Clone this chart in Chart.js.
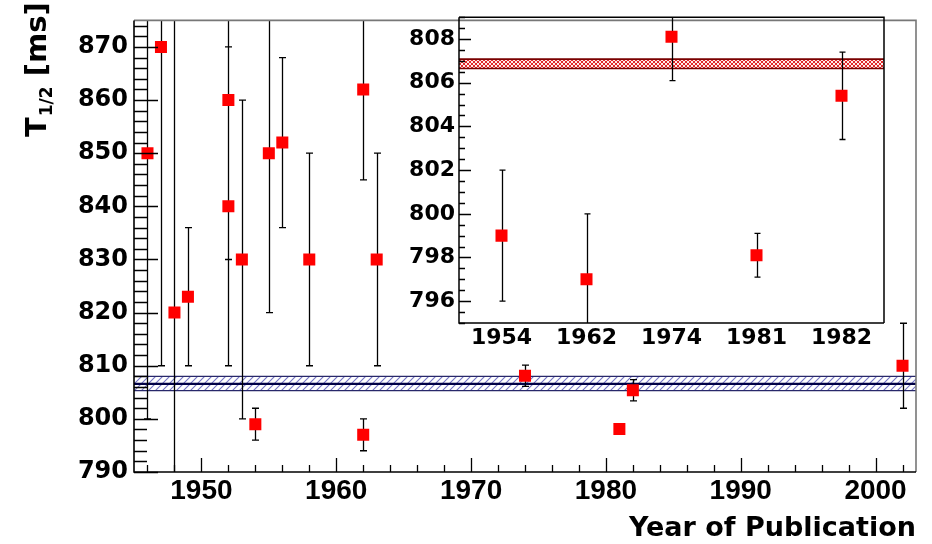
<!DOCTYPE html>
<html>
<head>
<meta charset="utf-8">
<script src="https://cdn.jsdelivr.net/npm/chart.js@4.4.1/dist/chart.umd.min.js"></script>
<style>
  html, body { margin: 0; padding: 0; background: #fff; }
  #wrap { position: relative; width: 932px; height: 544px; }
  #main { position: absolute; left: 0; top: 0; }
  #inset { position: absolute; left: 400px; top: 0; }
</style>
</head>
<body>
<div id="wrap">
  <canvas id="main" width="932" height="544"></canvas>
  <canvas id="inset" width="500" height="370"></canvas>
</div>
<script>
// main plot: publication year, half-life [ms] and its error
const pubYears   = [1946, 1947, 1948, 1949, 1952, 1952, 1953, 1954, 1955, 1956, 1958, 1962, 1962, 1963, 1974, 1981, 1982, 2002];
const halfLives  = [850, 870, 820, 823, 860, 840, 830, 799, 850, 852, 830, 862, 797, 830, 808.1, 798.1, 805.4, 810];
const halfErrors = [50, 60, 70, 13, 30, 30, 30, 3, 30, 16, 20, 17, 3, 20, 2, 1, 2, 8];
const mainBand   = [805.3, 806.6, 808.0];      // low, mean, high

// inset: the precise measurements only
const insetYears  = ['1954', '1962', '1974', '1981', '1982'];
const insetValues = [799, 797, 808.1, 798.1, 805.4];
const insetErrors = [3, 3, 2, 1, 2];
const insetBand   = [806.65, 806.88, 807.08];

// axis ranges and tick labels
const mainX = [1945, 2003, 10, 2];   // min, max, major, minor
const mainY = [790, 875, 10, 2];
const insetY = [795, 809, 2, 0.5];
const mainXTicks  = [1950, 1960, 1970, 1980, 1990, 2000];
const mainYTicks  = [790, 800, 810, 820, 830, 840, 850, 860, 870];
const insetYTicks = [796, 798, 800, 802, 804, 806, 808];

function hatch(color, bg, size, both, lw) {
  const c = document.createElement('canvas');
  c.width = c.height = size;
  const g = c.getContext('2d');
  if (bg) { g.fillStyle = bg; g.fillRect(0, 0, size, size); }
  g.strokeStyle = color;
  g.lineWidth = lw;
  g.beginPath();
  g.moveTo(-1, size + 1); g.lineTo(size + 1, -1);
  g.moveTo(-1, 1); g.lineTo(1, -1);
  g.moveTo(size - 1, size + 1); g.lineTo(size + 1, size - 1);
  if (both) {
    g.moveTo(-1, -1); g.lineTo(size + 1, size + 1);
  }
  g.stroke();
  return c;
}

const bandPlugin = {
  id: 'band',
  beforeDatasetsDraw(chart, args, o) {
    const { ctx, chartArea: a, scales: { y } } = chart;
    const [lo, mid, hi] = o.values;
    const yl = y.getPixelForValue(lo), yh = y.getPixelForValue(hi), ym = y.getPixelForValue(mid);
    ctx.save();
    ctx.beginPath();
    ctx.rect(a.left, a.top, a.width, a.height);
    ctx.clip();
    ctx.fillStyle = ctx.createPattern(o.pattern, 'repeat');
    ctx.fillRect(a.left, yh, a.width, yl - yh);
    ctx.strokeStyle = o.edge;
    ctx.lineWidth = o.edgeWidth;
    ctx.beginPath();
    ctx.moveTo(a.left, yl); ctx.lineTo(a.right, yl);
    ctx.moveTo(a.left, yh); ctx.lineTo(a.right, yh);
    ctx.stroke();
    if (o.centerWidth) {
      ctx.strokeStyle = o.center;
      ctx.lineWidth = o.centerWidth;
      ctx.beginPath();
      ctx.moveTo(a.left, ym); ctx.lineTo(a.right, ym);
      ctx.stroke();
    }
    ctx.restore();
  }
};

const errPlugin = {
  id: 'errbars',
  beforeDatasetsDraw(chart, args, o) {
    const { ctx, chartArea: a, scales: { y } } = chart;
    const meta = chart.getDatasetMeta(0);
    const vals = chart.data.datasets[0].data;
    ctx.save();
    ctx.beginPath();
    ctx.rect(a.left, a.top, a.width, a.height);
    ctx.clip();
    ctx.strokeStyle = '#000';
    ctx.lineWidth = 1.3;
    ctx.beginPath();
    meta.data.forEach((pt, i) => {
      const v = typeof vals[i] === 'object' ? vals[i].y : vals[i];
      const e = o.errors[i];
      const x = Math.round(pt.x) + 0.5;
      const y1 = y.getPixelForValue(v + e), y2 = y.getPixelForValue(v - e);
      ctx.moveTo(x, y1); ctx.lineTo(x, y2);
      ctx.moveTo(x - o.cap, y1); ctx.lineTo(x + o.cap, y1);
      ctx.moveTo(x - o.cap, y2); ctx.lineTo(x + o.cap, y2);
    });
    ctx.stroke();
    ctx.restore();
  }
};

function isMajor(v, step) {
  return Math.abs(v / step - Math.round(v / step)) < 1e-6;
}

const frameTicks = {
  id: 'frameTicks',
  afterDraw(chart, args, o) {
    const { ctx, chartArea: a, scales: { x, y } } = chart;
    ctx.save();
    ctx.strokeStyle = '#000';
    ctx.lineWidth = 1.3;
    ctx.beginPath();
    if (o.y) {
      const [min, max, major, minor, lmaj, lmin] = o.y;
      for (let v = Math.ceil(min / minor) * minor; v <= max + 1e-9; v += minor) {
        const py = Math.round(y.getPixelForValue(v)) + 0.5;
        ctx.moveTo(a.left, py);
        ctx.lineTo(a.left + (isMajor(v, major) ? lmaj : lmin), py);
      }
    }
    if (o.x) {
      const [min, max, major, minor, lmaj, lmin] = o.x;
      for (let v = Math.ceil(min / minor) * minor; v <= max + 1e-9; v += minor) {
        const px = Math.round(x.getPixelForValue(v)) + 0.5;
        ctx.moveTo(px, a.bottom);
        ctx.lineTo(px, a.bottom - (isMajor(v, major) ? lmaj : lmin));
      }
    }
    ctx.stroke();
    // frame
    ctx.lineWidth = o.width;
    ctx.strokeStyle = o.far;
    ctx.beginPath();
    ctx.moveTo(a.left, a.top); ctx.lineTo(a.right, a.top); ctx.lineTo(a.right, a.bottom);
    ctx.stroke();
    ctx.strokeStyle = o.near;
    ctx.beginPath();
    ctx.moveTo(a.left, a.top); ctx.lineTo(a.left, a.bottom); ctx.lineTo(a.right, a.bottom);
    ctx.stroke();
    ctx.restore();
  }
};

const titles = {
  id: 'titles',
  afterDraw(chart) {
    const { ctx } = chart;
    ctx.save();
    ctx.fillStyle = '#000';
    ctx.textBaseline = 'alphabetic';
    // x title, right aligned to the frame
    ctx.font = 'bold 27px "DejaVu Sans"';
    ctx.textAlign = 'right';
    ctx.fillText('Year of Publication', chart.chartArea.right, 536);
    // y title, rotated, with subscript
    ctx.translate(46, 137);
    ctx.rotate(-Math.PI / 2);
    ctx.textAlign = 'left';
    let cx = 0;
    ctx.font = 'bold 29px "DejaVu Sans"';
    ctx.fillText('T', cx, 0);
    cx += ctx.measureText('T').width + 1;
    ctx.font = 'bold 17px "DejaVu Sans"';
    ctx.fillText('1/2', cx, 6);
    cx += ctx.measureText('1/2').width;
    ctx.font = 'bold 29px "DejaVu Sans"';
    ctx.fillText(' [ms]', cx, 0);
    ctx.restore();
  }
};

const pointStyle = {
  pointStyle: 'rect',
  pointRadius: 8.5,
  pointHoverRadius: 8.5,
  backgroundColor: '#ff0000',
  borderColor: '#ff0000',
  borderWidth: 0
};

const fixTicks = list => s => { s.ticks = list.map(v => ({ value: v })); };

new Chart(document.getElementById('main'), {
  type: 'scatter',
  data: {
    datasets: [{ data: pubYears.map((yr, i) => ({ x: yr, y: halfLives[i] })), ...pointStyle }]
  },
  options: {
    responsive: false,
    animation: false,
    events: [],
    layout: { padding: { left: 0, right: 16, top: 9, bottom: 0 } },
    plugins: {
      legend: { display: false },
      tooltip: { enabled: false },
      band: {
        values: mainBand, pattern: hatch('#7474c4', '#ffffff', 7, false, 1.1),
        edge: '#28286a', edgeWidth: 1.2, center: '#000046', centerWidth: 2.2
      },
      errbars: { errors: halfErrors, cap: 3.5 },
      frameTicks: {
        x: [...mainX, 14, 7], y: [...mainY, 24, 13],
        width: 1.6, near: '#000', far: '#777'
      }
    },
    scales: {
      x: {
        type: 'linear', min: mainX[0], max: mainX[1],
        afterBuildTicks: fixTicks(mainXTicks),
        afterFit: s => { s.height = 72; },
        grid: { display: false, drawTicks: false },
        border: { display: false },
        ticks: {
          padding: 2, color: '#000', autoSkip: false, maxRotation: 0,
          font: { family: '"Liberation Sans"', weight: 'bold', size: 28 },
          callback: v => String(v)
        }
      },
      y: {
        min: mainY[0], max: mainY[1],
        afterBuildTicks: fixTicks(mainYTicks),
        afterFit: s => { s.width = 134; },
        grid: { display: false, drawTicks: false },
        border: { display: false },
        ticks: {
          padding: 6, color: '#000',
          font: { family: '"DejaVu Sans"', weight: 'bold', size: 24 },
          callback: v => String(v)
        }
      }
    }
  },
  plugins: [bandPlugin, errPlugin, frameTicks, titles]
});

new Chart(document.getElementById('inset'), {
  type: 'line',
  data: {
    labels: insetYears,
    datasets: [{ data: insetValues, showLine: false, ...pointStyle }]
  },
  options: {
    responsive: false,
    animation: false,
    events: [],
    layout: { padding: { left: 0, right: 16, top: 15, bottom: 0 } },
    plugins: {
      legend: { display: false },
      tooltip: { enabled: false },
      band: {
        values: insetBand, pattern: hatch('#e02828', '#ffeaea', 4, true, 1),
        edge: '#7a0000', edgeWidth: 1.6, centerWidth: 0
      },
      errbars: { errors: insetErrors, cap: 3 },
      frameTicks: {
        y: [...insetY, 12, 6],
        width: 1.5, near: '#000', far: '#000'
      }
    },
    scales: {
      x: {
        type: 'category', offset: true,
        afterFit: s => { s.height = 47; },
        grid: { display: false, drawTicks: false },
        border: { display: false },
        ticks: {
          padding: 2, color: '#000', autoSkip: false, maxRotation: 0,
          font: { family: '"DejaVu Sans"', weight: 'bold', size: 22 }
        }
      },
      y: {
        min: insetY[0], max: insetY[1],
        afterBuildTicks: fixTicks(insetYTicks),
        afterFit: s => { s.width = 59; },
        grid: { display: false, drawTicks: false },
        border: { display: false },
        ticks: {
          padding: 4, color: '#000',
          font: { family: '"DejaVu Sans"', weight: 'bold', size: 22 },
          callback: v => String(v)
        }
      }
    }
  },
  plugins: [bandPlugin, errPlugin, frameTicks]
});
</script>
</body>
</html>
